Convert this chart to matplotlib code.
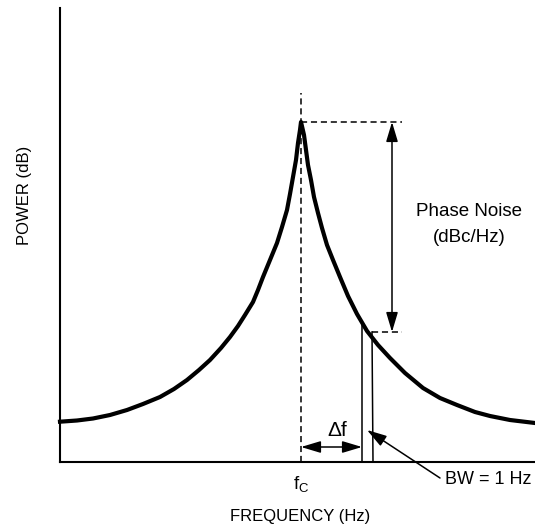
import matplotlib
matplotlib.use('Agg')
import matplotlib.pyplot as plt

plt.rcParams['font.family'] = ['Liberation Sans', 'DejaVu Sans']
plt.rcParams['mathtext.fontset'] = 'custom'
plt.rcParams['mathtext.rm'] = 'Liberation Sans'

# offset from the carrier and power (arbitrary units)
offset = [-24.1, -22.4, -20.8, -19.1, -17.4, -15.8, -14.1, -12.7, -11.4, -10.2, -9.1, -8.0, -7.1,
          -6.3, -5.6, -4.8, -4.3, -3.8, -3.1, -2.4, -1.9, -1.4, -1.1, -0.8, -0.5, -0.3, -0.1, 0.0,
          0.3, 0.5, 0.7, 1.0, 1.3, 1.7, 2.1, 2.6, 3.2, 3.9, 4.7, 5.6, 6.6, 7.7, 8.9, 10.4, 12.2,
          13.9, 15.6, 17.4, 18.9, 20.9, 23.4]
power = [4.03, 4.15, 4.35, 4.7, 5.2, 5.8, 6.5, 7.3, 8.2, 9.2, 10.2, 11.4, 12.5,
         13.6, 14.7, 16.0, 17.2, 18.5, 20.2, 21.9, 23.5, 25.2, 26.8, 28.5, 30.2, 31.9, 33.2, 34.0,
         32.7, 31.2, 29.7, 28.2, 26.5, 24.9, 23.4, 21.7, 20.2, 18.5, 16.6, 14.8, 13.1, 11.7, 10.4, 8.9, 7.4,
         6.4, 5.7, 5.0, 4.6, 4.2, 3.9]

carrier = 0.0
peak_power = 34.0
noise_power = 13.0
delta_f = 6.1
bw_edge = 7.1
bw_top = 13.7
pn_arrow_x = 9.1
guide_end = 10.1


def arrow(ax, start, end, style):
    """ Draws a black arrow between two data points """
    ax.annotate('', xy=end, xytext=start, annotation_clip=False,
                arrowprops=dict(arrowstyle=style + ',head_length=0.6,head_width=0.18',
                                color='black', lw=1.1, shrinkA=0, shrinkB=0,
                                mutation_scale=20))


fig = plt.figure(figsize=(5.35, 5.31), dpi=100)
ax = fig.add_axes([60 / 535, 69 / 531, 475 / 535, 454 / 531])
ax.set_xlim(-24.1, 23.4)
ax.set_ylim(0, 45.4)
for side in ['top', 'right']:
    ax.spines[side].set_visible(False)
for side in ['left', 'bottom']:
    ax.spines[side].set_linewidth(1.5)
ax.set_xticks([])
ax.set_yticks([])

ax.plot(offset, power, color='black', lw=3, solid_joinstyle='round', clip_on=False)

dash = (0, (4, 2.5))
ax.plot([carrier, carrier], [0, 36.9], color='black', lw=1.1, ls=dash)
ax.plot([carrier, guide_end], [peak_power, peak_power], color='black', lw=1.1, ls=dash)
ax.plot([bw_edge, guide_end], [noise_power, noise_power], color='black', lw=1.1, ls=dash)

# 1 Hz bandwidth slice
ax.plot([delta_f, delta_f], [0, bw_top], color='black', lw=1.1)
ax.plot([bw_edge + 0.1, bw_edge], [0, noise_power], color='black', lw=1.1)

arrow(ax, (pn_arrow_x, noise_power), (pn_arrow_x, peak_power), '<|-|>')
arrow(ax, (carrier, 1.5), (delta_f, 1.5), '<|-|>')
arrow(ax, (13.9, -1.6), (6.6, 3.2), '-|>')

ax.text(3.6, 3.2, '\u0394f', ha='center', va='center', fontsize=15)
ax.text(14.4, -1.8, 'BW = 1 Hz', ha='left', va='center', fontsize=13, clip_on=False)
ax.text(carrier, -2.3, r'f$_\mathrm{C}$', ha='center', va='center', fontsize=13.5)
ax.text(16.8, 25.0, 'Phase Noise', ha='center', va='center', fontsize=13.5)
ax.text(16.85, 22.4, '(dBc/Hz)', ha='center', va='center', fontsize=13.5)
ax.text(-0.1, -5.4, 'FREQUENCY (Hz)', ha='center', va='center', fontsize=12)
ax.text(-27.6, 26.7, 'POWER (dB)', ha='center', va='center', fontsize=12, rotation=90)

plt.savefig('out.png', dpi=100)
